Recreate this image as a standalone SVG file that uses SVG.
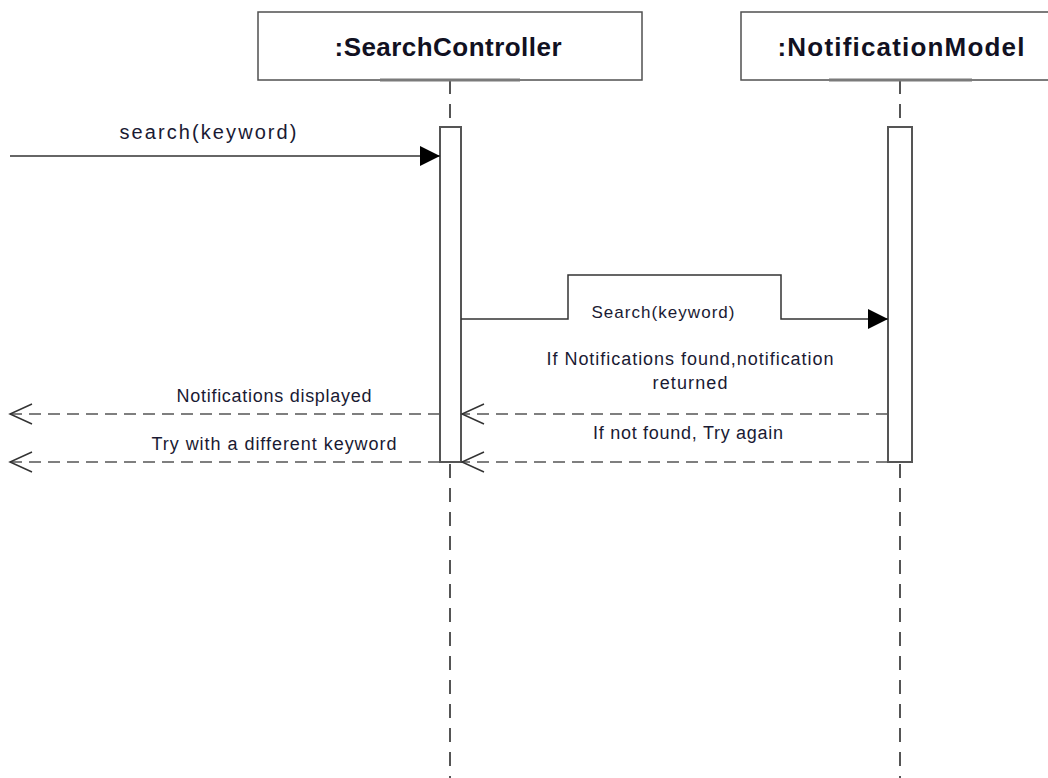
<svg xmlns="http://www.w3.org/2000/svg" width="1048" height="778" viewBox="0 0 1048 778">
  <defs>
    <style>
      .head { fill: #ffffff; stroke: #505050; stroke-width: 1.5; }
      .shade { stroke: #7a7a7a; stroke-width: 3; }
      .title { font-family: "Liberation Sans", Arial, sans-serif; font-size: 26px; font-weight: bold; fill: #111122; text-anchor: middle; }
      .life { stroke: #555555; stroke-width: 2; stroke-dasharray: 14 10; fill: none; }
      .act { fill: #ffffff; stroke: #555555; stroke-width: 2; }
      .call { stroke: #333333; stroke-width: 1.5; fill: none; }
      .reply { stroke: #555555; stroke-width: 1.5; stroke-dasharray: 12 7; fill: none; }
      .lbl { font-family: "Liberation Sans", Arial, sans-serif; font-size: 18px; fill: #1a1a33; text-anchor: middle; }
    </style>
    <marker id="filled" markerWidth="22" markerHeight="22" viewBox="0 0 22 22" refX="21" refY="11" orient="auto" markerUnits="userSpaceOnUse">
      <path d="M1,1 L21,11 L1,21 Z" fill="#000000"/>
    </marker>
    <marker id="open" markerWidth="26" markerHeight="24" viewBox="0 0 26 24" refX="24" refY="12" orient="auto" markerUnits="userSpaceOnUse">
      <path d="M2,2 L24,12 L2,22" fill="none" stroke="#333333" stroke-width="1.5"/>
    </marker>
  </defs>

  <rect width="1048" height="778" fill="#ffffff"/>

  <!-- lifeline: SearchController -->
  <g id="searchController">
    <line class="life" x1="450" y1="80" x2="450" y2="778"/>
    <rect class="head" x="258" y="12" width="384" height="68"/>
    <line class="shade" x1="380" y1="80" x2="520" y2="80"/>
    <text class="title" x="448" y="56" textLength="227" lengthAdjust="spacing">:SearchController</text>
    <rect class="act" x="440" y="127" width="21" height="335"/>
  </g>

  <!-- lifeline: NotificationModel -->
  <g id="notificationModel">
    <line class="life" x1="900" y1="80" x2="900" y2="778"/>
    <rect class="head" x="741" y="12" width="320" height="68"/>
    <line class="shade" x1="829" y1="80" x2="972" y2="80"/>
    <text class="title" x="901" y="56" textLength="247" lengthAdjust="spacing">:NotificationModel</text>
    <rect class="act" x="888" y="127" width="24" height="335"/>
  </g>

  <!-- messages -->
  <g id="connectors">
    <line class="call" x1="10" y1="156" x2="440" y2="156" marker-end="url(#filled)"/>
    <path class="call" d="M461,319 H568 V275 H781 V319 H888" marker-end="url(#filled)"/>
    <line class="reply" x1="888" y1="414" x2="462" y2="414" marker-end="url(#open)"/>
    <line class="reply" x1="888" y1="462" x2="462" y2="462" marker-end="url(#open)"/>
    <line class="reply" x1="440" y1="414" x2="10" y2="414" marker-end="url(#open)"/>
    <line class="reply" x1="440" y1="462" x2="10" y2="462" marker-end="url(#open)"/>
  </g>

  <g id="labels">
    <text class="lbl" x="208" y="139" style="font-size:20px" textLength="177" lengthAdjust="spacing">search(keyword)</text>
    <text class="lbl" x="663" y="318" style="font-size:17px" textLength="143" lengthAdjust="spacing">Search(keyword)</text>
    <text class="lbl" x="690" y="365" textLength="287" lengthAdjust="spacing">If Notifications found,notification</text>
    <text class="lbl" x="690" y="389" textLength="75" lengthAdjust="spacing">returned</text>
    <text class="lbl" x="688" y="439" textLength="190" lengthAdjust="spacing">If not found, Try again</text>
    <text class="lbl" x="274" y="402" textLength="195" lengthAdjust="spacing">Notifications displayed</text>
    <text class="lbl" x="274" y="450" textLength="245" lengthAdjust="spacing">Try with a different keyword</text>
  </g>
</svg>
